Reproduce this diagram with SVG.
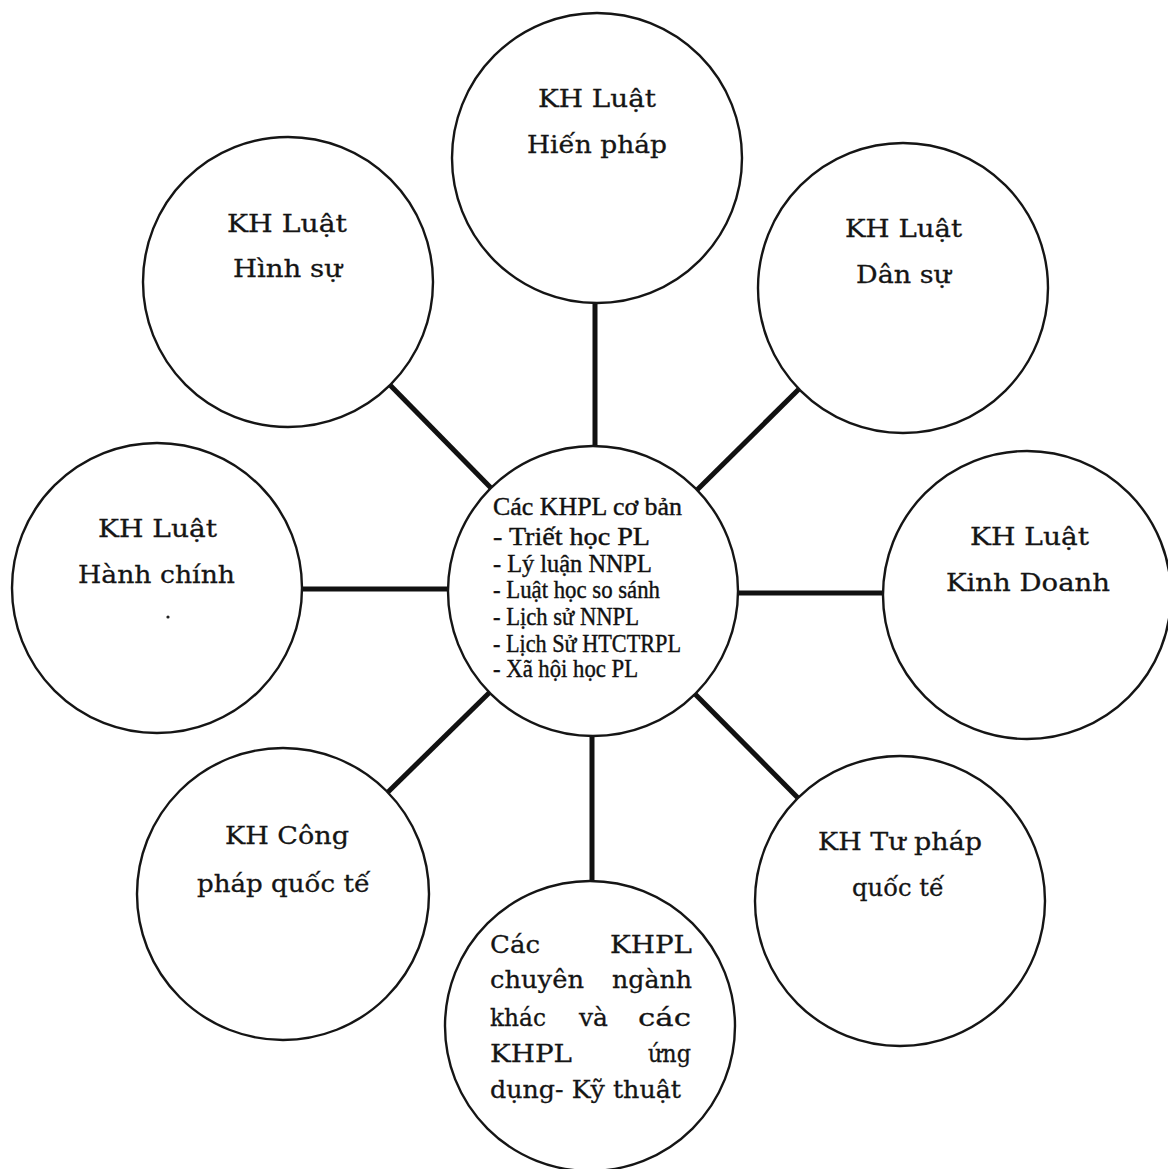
<svg xmlns="http://www.w3.org/2000/svg" width="1168" height="1169" viewBox="0 0 1168 1169">
<style>
.bg{fill:#ffffff}
.node{fill:#ffffff;stroke:#151515;stroke-width:2.4}
.conn{stroke:#111111;stroke-width:5;stroke-linecap:butt}
.lbl{font-family:"DejaVu Serif","Liberation Serif",serif;font-size:25px;fill:#151515;stroke:#151515;stroke-width:0.3}
.ctr{font-family:"Liberation Serif","Times New Roman",serif;font-size:25px;fill:#111111;stroke:#111111;stroke-width:0.4}
</style>
<rect class="bg" x="0" y="0" width="1168" height="1169"/>
<g id="connectors">
<line class="conn" x1="595" y1="302" x2="595" y2="447"/>
<line class="conn" x1="389" y1="384" x2="491" y2="488"/>
<line class="conn" x1="799" y1="389" x2="697" y2="490"/>
<line class="conn" x1="302" y1="589" x2="449" y2="589"/>
<line class="conn" x1="737" y1="593" x2="884" y2="593"/>
<line class="conn" x1="387" y1="793" x2="490" y2="692"/>
<line class="conn" x1="799" y1="799" x2="695" y2="694"/>
<line class="conn" x1="592" y1="735" x2="592" y2="882"/>
</g>
<g id="center">
<circle class="node" cx="593" cy="591" r="145"/>
<text class="ctr" x="493" y="515" font-size="27" textLength="189" lengthAdjust="spacingAndGlyphs">Các KHPL cơ bản</text>
<text class="ctr" x="493" y="545" textLength="157" lengthAdjust="spacingAndGlyphs">- Triết học PL</text>
<text class="ctr" x="493" y="572" textLength="159" lengthAdjust="spacingAndGlyphs">- Lý luận NNPL</text>
<text class="ctr" x="493" y="598" textLength="167" lengthAdjust="spacingAndGlyphs">- Luật học so sánh</text>
<text class="ctr" x="493" y="625" textLength="146" lengthAdjust="spacingAndGlyphs">- Lịch sử NNPL</text>
<text class="ctr" x="493" y="652" textLength="188" lengthAdjust="spacingAndGlyphs">- Lịch Sử HTCTRPL</text>
<text class="ctr" x="493" y="677" textLength="145" lengthAdjust="spacingAndGlyphs">- Xã hội học PL</text>
</g>
<g id="hien-phap">
<circle class="node" cx="597" cy="158" r="145"/>
<text class="lbl" x="538" y="107" textLength="118" lengthAdjust="spacingAndGlyphs">KH Luật</text>
<text class="lbl" x="527" y="153" textLength="140" lengthAdjust="spacingAndGlyphs">Hiến pháp</text>
</g>
<g id="hinh-su">
<circle class="node" cx="288" cy="282" r="145"/>
<text class="lbl" x="227" y="232" textLength="120" lengthAdjust="spacingAndGlyphs">KH Luật</text>
<text class="lbl" x="233" y="277" textLength="109" lengthAdjust="spacingAndGlyphs">Hình sự</text>
</g>
<g id="dan-su">
<circle class="node" cx="903" cy="288" r="145"/>
<text class="lbl" x="845" y="237" textLength="117" lengthAdjust="spacingAndGlyphs">KH Luật</text>
<text class="lbl" x="856" y="283" textLength="95" lengthAdjust="spacingAndGlyphs">Dân sự</text>
</g>
<g id="hanh-chinh">
<circle class="node" cx="157" cy="588" r="145"/>
<text class="lbl" x="98" y="537" textLength="119" lengthAdjust="spacingAndGlyphs">KH Luật</text>
<text class="lbl" x="78" y="583" textLength="157" lengthAdjust="spacingAndGlyphs">Hành chính</text>
<circle cx="168" cy="617" r="1.6" fill="#222"/>
</g>
<g id="kinh-doanh">
<circle class="node" cx="1027" cy="595" r="144"/>
<text class="lbl" x="970" y="545" textLength="119" lengthAdjust="spacingAndGlyphs">KH Luật</text>
<text class="lbl" x="946" y="591" textLength="164" lengthAdjust="spacingAndGlyphs">Kinh Doanh</text>
</g>
<g id="cong-phap">
<circle class="node" cx="283" cy="894" r="146"/>
<text class="lbl" x="225" y="844" textLength="124" lengthAdjust="spacingAndGlyphs">KH Công</text>
<text class="lbl" x="197" y="892" textLength="173" lengthAdjust="spacingAndGlyphs">pháp quốc tế</text>
</g>
<g id="tu-phap">
<circle class="node" cx="900" cy="901" r="145"/>
<text class="lbl" x="818" y="850" textLength="164" lengthAdjust="spacingAndGlyphs">KH Tư pháp</text>
<text class="lbl" x="852" y="896" textLength="92" lengthAdjust="spacingAndGlyphs">quốc tế</text>
</g>
<g id="chuyen-nganh">
<circle class="node" cx="590" cy="1026" r="145"/>
<text class="lbl" x="490" y="953" textLength="50" lengthAdjust="spacingAndGlyphs">Các</text>
<text class="lbl" x="610" y="953" textLength="82" lengthAdjust="spacingAndGlyphs">KHPL</text>
<text class="lbl" x="490" y="988" textLength="94" lengthAdjust="spacingAndGlyphs">chuyên</text>
<text class="lbl" x="612" y="988" textLength="80" lengthAdjust="spacingAndGlyphs">ngành</text>
<text class="lbl" x="490" y="1026" textLength="56" lengthAdjust="spacingAndGlyphs">khác</text>
<text class="lbl" x="579" y="1026" textLength="29" lengthAdjust="spacingAndGlyphs">và</text>
<text class="lbl" x="638" y="1026" textLength="53" lengthAdjust="spacingAndGlyphs">các</text>
<text class="lbl" x="490" y="1062" textLength="82" lengthAdjust="spacingAndGlyphs">KHPL</text>
<text class="lbl" x="648" y="1062" textLength="43" lengthAdjust="spacingAndGlyphs">ứng</text>
<text class="lbl" x="490" y="1098" textLength="191" lengthAdjust="spacingAndGlyphs">dụng- Kỹ thuật</text>
</g>
</svg>
